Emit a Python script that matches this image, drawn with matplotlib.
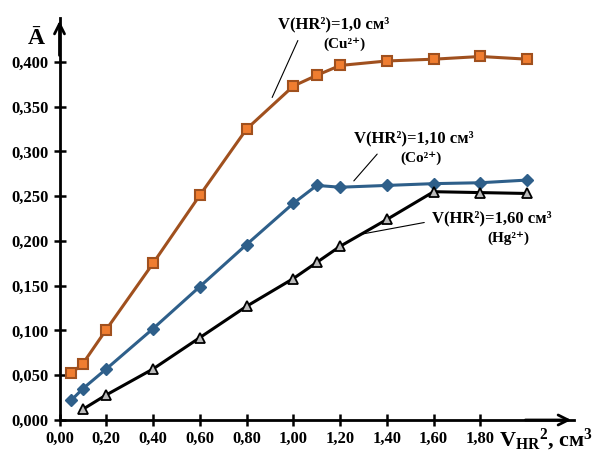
import numpy as np
import matplotlib
matplotlib.use("Agg")
import matplotlib.pyplot as plt

plt.rcParams["font.family"] = ["Liberation Serif", "DejaVu Serif"]
plt.rcParams["font.weight"] = "bold"
plt.rcParams["mathtext.fontset"] = "custom"
plt.rcParams["mathtext.rm"] = "Liberation Serif:bold"
plt.rcParams["mathtext.it"] = "Liberation Serif:bold"
plt.rcParams["mathtext.bf"] = "Liberation Serif:bold"

# data
x_cu = [0.05, 0.1, 0.2, 0.4, 0.6, 0.8, 1.0, 1.1, 1.2, 1.4, 1.6, 1.8, 2.0]
a_cu = [0.052, 0.063, 0.101, 0.175, 0.251, 0.325, 0.373, 0.385, 0.396, 0.401, 0.403, 0.406, 0.403]

x_co = [0.05, 0.1, 0.2, 0.4, 0.6, 0.8, 1.0, 1.1, 1.2, 1.4, 1.6, 1.8, 2.0]
a_co = [0.022, 0.035, 0.057, 0.102, 0.149, 0.196, 0.242, 0.262, 0.260, 0.262, 0.264, 0.265, 0.268]

x_hg = [0.1, 0.2, 0.4, 0.6, 0.8, 1.0, 1.1, 1.2, 1.4, 1.6, 1.8, 2.0]
a_hg = [0.012, 0.028, 0.057, 0.092, 0.127, 0.158, 0.176, 0.194, 0.224, 0.255, 0.254, 0.253]

xticks = [0.0, 0.2, 0.4, 0.6, 0.8, 1.0, 1.2, 1.4, 1.6, 1.8]
xticklabels = ["0,00", "0,20", "0,40", "0,60", "0,80", "1,00", "1,20", "1,40", "1,60", "1,80"]
yticks = [0.0, 0.05, 0.1, 0.15, 0.2, 0.25, 0.3, 0.35, 0.4]
yticklabels = ["0,000", "0,050", "0,100", "0,150", "0,200", "0,250", "0,300", "0,350", "0,400"]

fig = plt.figure(figsize=(5.95, 4.54), dpi=100)
ax = fig.add_axes([59.5/595, 34/454, (574-59.5)/595, (420-18)/454])
ax.set_xlim(0, 2.2)
ax.set_ylim(0, 0.449)

ax.plot(x_cu, a_cu, c="#A0501E", lw=2.2, marker="s", ms=7, mfc="#F07D30", mec="#A0501E", mew=1.5, zorder=3)
ax.plot(x_co, a_co, c="#2E5F8A", lw=2.2, marker="D", ms=6, mfc="#2E5F8A", mec="#2E5F8A", zorder=3)
ax.plot(x_hg, a_hg, c="black", lw=2.2, marker="^", ms=7, mfc="#BBBBBB", mec="black", mew=1.3, zorder=3)

for s in ["top", "right"]:
    ax.spines[s].set_visible(False)
for s in ["left", "bottom"]:
    ax.spines[s].set_linewidth(2)

ax.set_xticks(xticks)
ax.set_xticklabels(xticklabels)
ax.set_yticks(yticks)
ax.set_yticklabels(yticklabels)
ax.tick_params(direction="inout", length=8, width=1.8, labelsize=12, pad=4)

# arrows on axes
ax.annotate("", xy=(1.0, 0), xycoords="axes fraction", xytext=(0.9, 0),
            arrowprops=dict(arrowstyle="->", lw=2, mutation_scale=18, color="black"))
ax.annotate("", xy=(0, 1.0), xycoords="axes fraction", xytext=(0, 0.9),
            arrowprops=dict(arrowstyle="->", lw=2, mutation_scale=18, color="black"))

# axis titles
fig.text(36/595, 1 - 38/454, "Ā", fontsize=17, ha="center", va="center")
fig.text(546/595, 1 - 440/454, r"V$_{\mathrm{HR}}$$^{2}$, см$^{3}$", fontsize=16, ha="center", va="center")

# curve notes
fs = 12
fig.text(334/595, 1 - 24/454, "V(HR²)=1,0 см³", fontsize=fs, ha="center", va="center")
fig.text(344/595, 1 - 44/454, "(Cu²⁺)", fontsize=fs-1, ha="center", va="center")
ax.annotate("", xy=(271, 454-100), xycoords="figure pixels", xytext=(299, 454-38),
            arrowprops=dict(arrowstyle="-", lw=0.8, color="black"))

fig.text(414/595, 1 - 138/454, "V(HR²)=1,10 см³", fontsize=fs, ha="center", va="center")
fig.text(421/595, 1 - 158/454, "(Co²⁺)", fontsize=fs-1, ha="center", va="center")
ax.annotate("", xy=(352, 454-183), xycoords="figure pixels", xytext=(379, 454-152),
            arrowprops=dict(arrowstyle="-", lw=0.8, color="black"))

fig.text(492/595, 1 - 218/454, "V(HR²)=1,60 см³", fontsize=fs, ha="center", va="center")
fig.text(508/595, 1 - 238/454, "(Hg²⁺)", fontsize=fs-1, ha="center", va="center")
ax.annotate("", xy=(357, 454-235), xycoords="figure pixels", xytext=(427, 454-222),
            arrowprops=dict(arrowstyle="-", lw=0.8, color="black"))

plt.savefig("out.png", dpi=100)
plt.close()
